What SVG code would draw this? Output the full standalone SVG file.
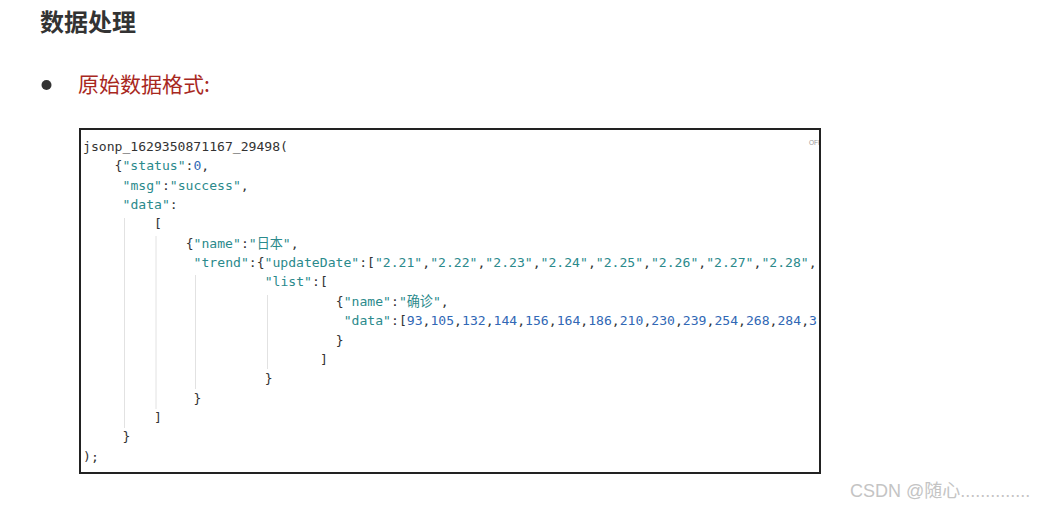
<svg xmlns="http://www.w3.org/2000/svg" width="1037" height="508" viewBox="0 0 1037 508">
<style>
.code{font-family:"DejaVu Sans Mono","Noto Sans CJK SC",monospace;font-size:13.1px;fill:#333;stroke:currentColor;stroke-width:0}
.k{fill:#2b8a8c}
.n{fill:#3168b5}
.guide{stroke:#e2e2e2;stroke-width:1}
</style>
<defs>
<clipPath id="boxclip"><rect x="80" y="129" width="739" height="344"/></clipPath>
</defs>
<rect x="0" y="0" width="1037" height="508" fill="#ffffff"/>
<g id="title">
<text x="40" y="31" font-family="'Noto Sans CJK SC',sans-serif" font-size="24" font-weight="bold" fill="#333">数据处理</text>
</g>
<g id="bullet">
<circle cx="46.5" cy="85" r="5" fill="#333"/>
<text x="78" y="92" font-family="'Noto Sans CJK SC',sans-serif" font-size="21" fill="#a8281e">原始数据格式:</text>
</g>
<g id="codebox">
<rect x="80" y="129" width="740" height="344" fill="#fff" stroke="#222" stroke-width="2"/>
<g id="guides">
<line class="guide" x1="124.5" y1="218" x2="124.5" y2="428"/>
<line class="guide" x1="156" y1="236" x2="156" y2="409"/>
<line class="guide" x1="195.5" y1="275" x2="195.5" y2="389"/>
<line class="guide" x1="267.5" y1="295" x2="267.5" y2="369"/>
</g>
<g clip-path="url(#boxclip)">
<text x="809" y="145" font-family="'Liberation Sans',sans-serif" font-size="6.5" fill="#999">OFF</text>
<text class="code" x="83" y="151">jsonp_1629350871167_29498(</text>
<text class="code" x="114.6" y="170.35">{<tspan class="k">"status"</tspan>:<tspan class="n">0</tspan>,</text>
<text class="code" x="122.5" y="189.7"><tspan class="k">"msg"</tspan>:<tspan class="k">"success"</tspan>,</text>
<text class="code" x="122.5" y="209.05"><tspan class="k">"data"</tspan>:</text>
<text class="code" x="154" y="228.4">[</text>
<text class="code" x="185.7" y="247.75">{<tspan class="k">"name"</tspan>:<tspan class="k">"日本"</tspan>,</text>
<text class="code" x="193.6" y="267.1"><tspan class="k">"trend"</tspan>:{<tspan class="k">"updateDate"</tspan>:[<tspan class="k">"2.21"</tspan>,<tspan class="k">"2.22"</tspan>,<tspan class="k">"2.23"</tspan>,<tspan class="k">"2.24"</tspan>,<tspan class="k">"2.25"</tspan>,<tspan class="k">"2.26"</tspan>,<tspan class="k">"2.27"</tspan>,<tspan class="k">"2.28"</tspan>,</text>
<text class="code" x="264.7" y="286.45"><tspan class="k">"list"</tspan>:[</text>
<text class="code" x="335.8" y="305.8">{<tspan class="k">"name"</tspan>:<tspan class="k">"确诊"</tspan>,</text>
<text class="code" x="343.7" y="325.15"><tspan class="k">"data"</tspan>:[<tspan class="n">93</tspan>,<tspan class="n">105</tspan>,<tspan class="n">132</tspan>,<tspan class="n">144</tspan>,<tspan class="n">156</tspan>,<tspan class="n">164</tspan>,<tspan class="n">186</tspan>,<tspan class="n">210</tspan>,<tspan class="n">230</tspan>,<tspan class="n">239</tspan>,<tspan class="n">254</tspan>,<tspan class="n">268</tspan>,<tspan class="n">284</tspan>,<tspan class="n">3</tspan></text>
<text class="code" x="335.8" y="344.5">}</text>
<text class="code" x="320" y="363.85">]</text>
<text class="code" x="264.7" y="383.2">}</text>
<text class="code" x="193.6" y="402.55">}</text>
<text class="code" x="154" y="421.9">]</text>
<text class="code" x="122.5" y="441.25">}</text>
<text class="code" x="83" y="460.6">);</text>
</g>
</g>
<g id="watermark">
<text x="850" y="497" font-family="'Liberation Sans','Noto Sans CJK SC',sans-serif" font-size="18" fill="#c4c4c4">CSDN @随心..............</text>
</g>
</svg>
